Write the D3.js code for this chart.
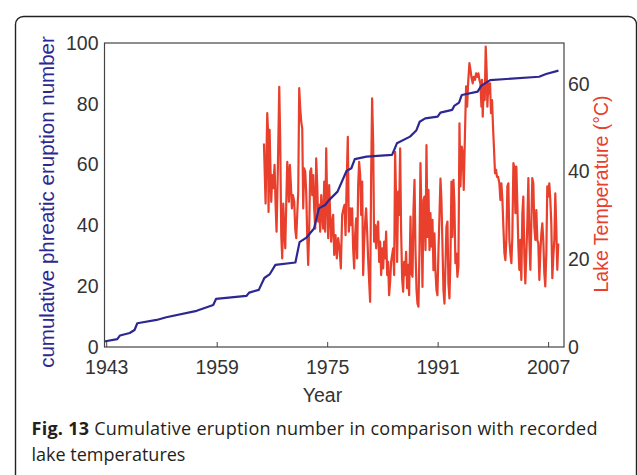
<!DOCTYPE html>
<html>
<head>
<meta charset="utf-8">
<script src="https://cdn.jsdelivr.net/npm/d3@7"></script>
<style>
  body { margin: 0; background: #fff; }
  svg { display: block; }
</style>
</head>
<body>
<svg></svg>
<script>
const width = 637;
const height = 475;
const margin = {top: 43, right: 73, bottom: 128, left: 104.5};

// cumulative phreatic eruptions (left axis)
const eruptionYears = [1942.7, 1944.6, 1945.0, 1946.4, 1947.1, 1947.5, 1950.3, 1951.7, 1956.1, 1958.5,
    1958.9, 1963.3, 1963.7, 1965.1, 1965.9, 1966.7, 1967.5, 1970.4, 1971.0, 1972.0,
    1973.1, 1973.8, 1974.7, 1975.3, 1976.5, 1977.8, 1978.5, 1979.0, 1980.7, 1984.4,
    1985.1, 1987.0, 1987.9, 1988.4, 1989.2, 1991.0, 1991.4, 1993.1, 1993.4, 1994.1,
    1994.5, 1996.8, 1997.3, 1998.6, 2005.7, 2006.7, 2008.5];
const eruptionCounts = [1.8, 2.6, 3.8, 4.6, 5.6, 7.8, 8.9, 9.8, 11.9, 13.8,
    15.8, 16.8, 17.9, 18.8, 22.7, 24.0, 27.0, 27.8, 34.5, 36.0,
    39.0, 45.6, 46.7, 48.4, 51.1, 57.9, 58.8, 61.8, 62.6, 63.2,
    67.0, 69.2, 71.2, 74.1, 75.2, 75.8, 77.1, 78.0, 79.3, 80.4,
    82.9, 84.0, 85.9, 87.8, 88.9, 89.8, 90.9];

// recorded lake temperatures (right axis)
const tempYears = [
    1965.84, 1966.08, 1966.32, 1966.42, 1966.51, 1966.66, 1966.80, 1966.90, 1967.04, 1967.19,
    1967.38, 1967.53, 1967.67, 1967.86, 1968.06, 1968.20, 1968.35, 1968.49, 1968.64, 1968.78,
    1968.93, 1969.07, 1969.22, 1969.31, 1969.46, 1969.60, 1969.75, 1969.89, 1970.04, 1970.23,
    1970.37, 1970.52, 1970.66, 1970.81, 1970.95, 1971.10, 1971.24, 1971.39, 1971.53, 1971.67,
    1971.82, 1971.96, 1972.11, 1972.25, 1972.40, 1972.54, 1972.69, 1972.83, 1972.98, 1973.12,
    1973.27, 1973.41, 1973.56, 1973.70, 1973.85, 1973.99, 1974.14, 1974.28, 1974.42, 1974.57,
    1974.71, 1974.86, 1975.00, 1975.15, 1975.29, 1975.44, 1975.58, 1975.73, 1975.87, 1976.02,
    1976.21, 1976.40, 1976.59, 1976.79, 1976.98, 1977.17, 1977.37, 1977.51, 1977.66, 1977.85,
    1977.99, 1978.14, 1978.33, 1978.47, 1978.62, 1978.76, 1978.91, 1979.05, 1979.20, 1979.34,
    1979.49, 1979.63, 1979.78, 1979.92, 1980.07, 1980.21, 1980.36, 1980.50, 1980.64, 1980.79,
    1980.93, 1981.08, 1981.22, 1981.37, 1981.51, 1981.66, 1981.80, 1981.95, 1982.09, 1982.24,
    1982.38, 1982.53, 1982.67, 1982.82, 1982.96, 1983.11, 1983.25, 1983.40, 1983.54, 1983.69,
    1983.83, 1983.97, 1984.12, 1984.26, 1984.41, 1984.55, 1984.70, 1984.84, 1984.99, 1985.13,
    1985.28, 1985.42, 1985.57, 1985.71, 1985.86, 1986.00, 1986.15, 1986.29, 1986.43, 1986.58,
    1986.72, 1986.87, 1987.07, 1987.21, 1987.36, 1987.50, 1987.65, 1987.79, 1987.94, 1988.08,
    1988.22, 1988.37, 1988.51, 1988.66, 1988.80, 1988.95, 1989.09, 1989.24, 1989.38, 1989.53,
    1989.67, 1989.82, 1989.96, 1990.11, 1990.25, 1990.39, 1990.54, 1990.68, 1990.83, 1990.97,
    1991.12, 1991.26, 1991.41, 1991.55, 1991.70, 1991.84, 1991.99, 1992.13, 1992.27, 1992.42,
    1992.56, 1992.71, 1992.85, 1993.00, 1993.14, 1993.29, 1993.43, 1993.57, 1993.72, 1993.86,
    1994.01, 1994.16, 1994.30, 1994.49, 1994.64, 1994.78, 1994.98, 1995.12, 1995.27, 1995.41,
    1995.60, 1995.75, 1995.89, 1996.08, 1996.23, 1996.42, 1996.57, 1996.76, 1996.90, 1997.05,
    1997.19, 1997.34, 1997.43, 1997.53, 1997.67, 1997.82, 1997.96, 1998.11, 1998.20, 1998.35,
    1998.49, 1998.59, 1998.73, 1998.88, 1999.02, 1999.17, 1999.31, 1999.46, 1999.60, 1999.75,
    1999.94, 2000.09, 2000.23, 2000.38, 2000.52, 2000.67, 2000.81, 2000.95, 2001.10, 2001.24,
    2001.39, 2001.53, 2001.68, 2001.82, 2001.97, 2002.11, 2002.26, 2002.40, 2002.55, 2002.69,
    2002.83, 2002.98, 2003.12, 2003.27, 2003.41, 2003.56, 2003.70, 2003.85, 2003.99, 2004.14,
    2004.28, 2004.43, 2004.57, 2004.71, 2004.86, 2005.00, 2005.15, 2005.29, 2005.44, 2005.58,
    2005.73, 2005.87, 2006.02, 2006.16, 2006.30, 2006.45, 2006.59, 2006.74, 2006.88, 2007.03,
    2007.17, 2007.32, 2007.46, 2007.61, 2007.75, 2007.90, 2008.04, 2008.18, 2008.33, 2008.47];
const tempValues = [
    46.4, 32.7, 53.3, 49.8, 30.8, 49.5, 40.0, 33.1, 39.2, 36.2,
    41.5, 32.4, 26.3, 40.7, 59.3, 46.8, 25.5, 20.2, 32.7, 26.3,
    22.5, 32.4, 42.2, 39.2, 33.1, 41.5, 36.9, 31.6, 34.6, 33.1,
    27.0, 24.8, 30.1, 35.4, 59.0, 54.4, 51.4, 49.8, 31.6, 40.7,
    40.0, 35.4, 25.5, 18.7, 27.0, 40.0, 40.7, 34.6, 39.2, 31.6,
    27.0, 43.0, 36.9, 28.6, 32.4, 26.3, 34.6, 30.1, 27.0, 37.7,
    26.3, 45.3, 33.1, 24.8, 36.9, 30.1, 24.0, 28.6, 30.1, 21.0,
    25.5, 20.2, 24.8, 22.5, 17.9, 30.1, 31.6, 32.4, 25.5, 39.2,
    47.9, 26.3, 31.6, 27.8, 31.6, 22.5, 17.9, 25.5, 29.3, 20.2,
    36.9, 42.2, 39.2, 30.1, 37.7, 16.4, 24.0, 28.6, 31.6, 26.3,
    20.2, 14.9, 10.3, 39.2, 56.7, 46.8, 24.0, 27.8, 22.5, 27.0,
    28.6, 19.4, 24.0, 16.4, 22.5, 17.9, 24.0, 20.2, 26.3, 16.4,
    19.4, 11.8, 14.9, 19.4, 21.0, 22.5, 16.4, 44.5, 33.1, 19.4,
    35.4, 30.1, 45.3, 26.3, 15.6, 12.6, 19.4, 16.4, 21.7, 13.4,
    18.7, 11.8, 29.7, 16.8, 16.0, 31.2, 38.1, 22.1, 13.0, 9.9,
    9.2, 22.1, 41.9, 29.7, 13.7, 33.5, 34.3, 22.1, 46.0, 25.1,
    35.8, 22.1, 30.5, 22.9, 29.0, 17.5, 25.9, 17.5, 13.0, 11.8,
    22.1, 29.7, 38.4, 33.5, 22.9, 13.0, 9.9, 18.3, 27.4, 28.6,
    14.5, 11.1, 19.8, 37.7, 25.1, 38.1, 32.7, 19.1, 21.3, 16.0,
    18.3, 51.0, 36.6, 45.7, 44.2, 35.8, 50.2, 59.4, 54.8, 60.1,
    64.7, 63.2, 61.6, 60.1, 61.6, 60.9, 62.4, 61.6, 62.4, 60.9,
    60.1, 54.8, 60.9, 52.5, 59.4, 56.3, 68.5, 62.4, 54.8, 60.1,
    57.8, 60.1, 53.3, 56.3, 50.2, 44.9, 39.6, 40.4, 38.8, 38.8,
    37.3, 33.5, 37.3, 33.5, 27.4, 21.4, 19.8, 24.4, 36.6, 37.3,
    24.4, 21.4, 19.1, 25.2, 41.9, 41.1, 30.5, 41.1, 32.0, 22.9,
    17.6, 24.4, 15.3, 30.5, 34.3, 20.6, 14.5, 21.4, 28.2, 38.5,
    24.4, 17.6, 28.2, 38.5, 37.3, 27.4, 24.4, 31.2, 24.4, 23.6,
    15.3, 21.4, 25.9, 28.2, 24.4, 16.8, 13.8, 21.4, 36.6, 34.3,
    37.3, 33.5, 28.2, 15.7, 20.6, 24.4, 35.0, 27.4, 17.6, 23.6];

const xTicks = [1943, 1959, 1975, 1991, 2007];
const leftTicks = [0, 20, 40, 60, 80, 100];
const rightTicks = [0, 20, 40, 60];

const blue = '#2d2891';
const red = '#e8402c';
const axisColor = '#444';
const textColor = '#333';

const svg = d3.select('svg')
    .attr('width', width)
    .attr('height', height)

// outer frame (open at the bottom, runs past the picture)
svg.append('rect')
    .attr('x', 15.5)
    .attr('y', 16.5)
    .attr('width', 621)
    .attr('height', 520)
    .attr('rx', 8)
    .attr('fill', 'none')
    .attr('stroke', '#222')
    .attr('stroke-width', 1.4)

const x0 = margin.left;
const x1 = width - margin.right;
const y0 = height - margin.bottom;
const y1 = margin.top;

const xScale = d3.scaleLinear()
    .domain([1942.75, 2009.3])
    .range([x0, x1])

const yLeft = d3.scaleLinear()
    .domain([0, 100])
    .range([y0, y1])

const yRight = d3.scaleLinear()
    .domain([0, 69.3])
    .range([y0, y1])

const tempLine = d3.line()
    .x(d => xScale(d[0]))
    .y(d => yRight(d[1]))

const eruptionLine = d3.line()
    .x(d => xScale(d[0]))
    .y(d => yLeft(d[1]))

svg.append('path')
    .datum(tempYears.map((yr, i) => [yr, tempValues[i]]))
    .attr('d', tempLine)
    .attr('fill', 'none')
    .attr('stroke', red)
    .attr('stroke-width', 2.2)
    .attr('stroke-linejoin', 'round')

svg.append('path')
    .datum(eruptionYears.map((yr, i) => [yr, eruptionCounts[i]]))
    .attr('d', eruptionLine)
    .attr('fill', 'none')
    .attr('stroke', blue)
    .attr('stroke-width', 2.2)
    .attr('stroke-linejoin', 'round')

// axes box
svg.append('rect')
    .attr('x', x0)
    .attr('y', y1)
    .attr('width', x1 - x0)
    .attr('height', y0 - y1)
    .attr('fill', 'none')
    .attr('stroke', axisColor)
    .attr('stroke-width', 1.2)

const tickFont = '"Liberation Sans", Arial, sans-serif';

const xAxis = d3.axisBottom(xScale)
    .tickValues(xTicks)
    .tickFormat(d3.format('d'))
    .tickSizeInner(-5)
    .tickSizeOuter(0)
    .tickPadding(13)

const xg = svg.append('g')
    .attr('transform', 'translate(0,' + y0 + ')')
    .call(xAxis)
xg.select('.domain').remove()
xg.selectAll('line').attr('stroke', axisColor)
xg.selectAll('text')
    .attr('fill', textColor)
    .attr('font-family', tickFont)
    .attr('font-size', 19.5)

const leftAxis = d3.axisLeft(yLeft)
    .tickValues(leftTicks)
    .tickSize(0)
    .tickPadding(6)

const lg = svg.append('g')
    .attr('transform', 'translate(' + x0 + ',0)')
    .call(leftAxis)
lg.select('.domain').remove()
lg.selectAll('text')
    .attr('fill', textColor)
    .attr('font-family', tickFont)
    .attr('font-size', 19.5)

const rightAxis = d3.axisRight(yRight)
    .tickValues(rightTicks)
    .tickSize(0)
    .tickPadding(4)

const rg = svg.append('g')
    .attr('transform', 'translate(' + x1 + ',0)')
    .call(rightAxis)
rg.select('.domain').remove()
rg.selectAll('text')
    .attr('fill', textColor)
    .attr('font-family', tickFont)
    .attr('font-size', 19.5)

// axis titles
svg.append('text')
    .text('Year')
    .attr('x', 322.5)
    .attr('y', 402)
    .attr('text-anchor', 'middle')
    .attr('fill', textColor)
    .attr('font-family', tickFont)
    .attr('font-size', 19.5)

svg.append('text')
    .text('cumulative phreatic eruption number')
    .attr('transform', 'translate(54,202) rotate(-90)')
    .attr('text-anchor', 'middle')
    .attr('fill', blue)
    .attr('font-family', tickFont)
    .attr('font-size', 20.5)

svg.append('text')
    .text('Lake Temperature (°C)')
    .attr('transform', 'translate(608,194) rotate(-90)')
    .attr('text-anchor', 'middle')
    .attr('fill', red)
    .attr('font-family', tickFont)
    .attr('font-size', 19.5)

// caption
const captionFont = '"Open Sans", "Noto Sans", sans-serif';
const cap = svg.append('text')
    .attr('x', 31.5)
    .attr('y', 435)
    .attr('fill', '#231f20')
    .attr('font-family', captionFont)
    .attr('font-size', 18)
    .attr('textLength', 566)
    .attr('lengthAdjust', 'spacing')
cap.append('tspan')
    .attr('font-weight', 'bold')
    .text('Fig. 13')
cap.append('tspan')
    .text(' Cumulative eruption number in comparison with recorded')

svg.append('text')
    .text('lake temperatures')
    .attr('x', 31.5)
    .attr('y', 461)
    .attr('fill', '#231f20')
    .attr('font-family', captionFont)
    .attr('font-size', 18)
</script>
</body>
</html>
